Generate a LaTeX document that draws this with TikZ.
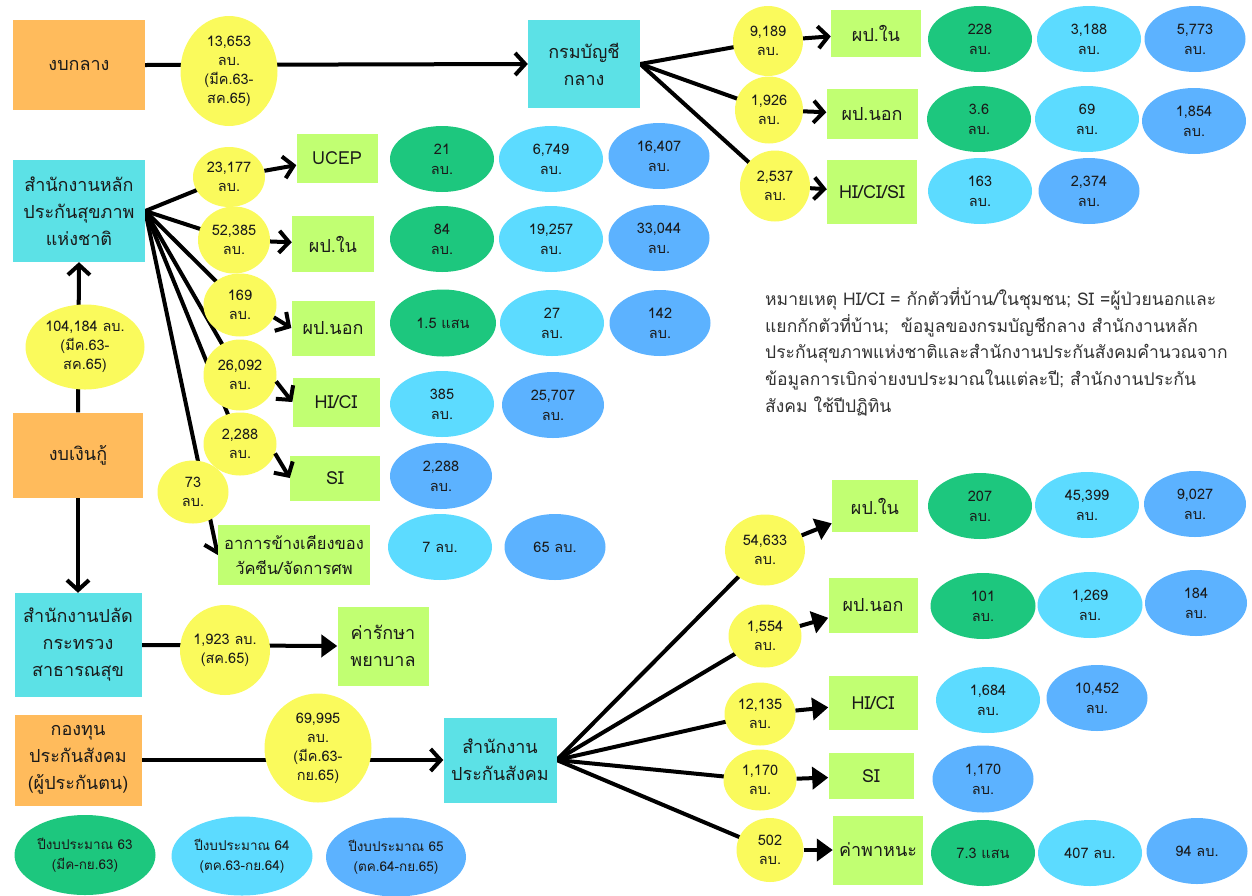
\documentclass[tikz,border=0pt]{standalone}
\usepackage{fontspec}
\setmainfont[Script=Thai]{Loma}
\usetikzlibrary{shapes.geometric,arrows.meta}
\pgfdeclarelayer{bg}
\pgfsetlayers{bg,main}
\definecolor{corange}{HTML}{FFBB5C}
\definecolor{ccyan}{HTML}{5CE1E6}
\definecolor{cyel}{HTML}{FAFA5C}
\definecolor{cbox}{HTML}{C1FF72}
\definecolor{cg63}{HTML}{1DC77E}
\definecolor{cg64}{HTML}{5CDBFF}
\definecolor{cg65}{HTML}{5CB2FF}
\definecolor{ctext}{HTML}{1A1A1A}
\definecolor{cnote}{HTML}{333333}
\begin{document}
\begin{tikzpicture}[x=1pt,y=-1pt,
  every node/.style={text=ctext},
  sz/.style 2 args={minimum width=#1pt, minimum height=#2pt},
  src/.style={rectangle, fill=corange, align=center, inner sep=0pt, font=\fontsize{18}{27}\selectfont},
  agency/.style={rectangle, fill=ccyan, align=center, inner sep=0pt, font=\fontsize{18}{27}\selectfont},
  item/.style={rectangle, fill=cbox, align=center, inner sep=0pt, font=\fontsize{18}{27}\selectfont},
  amount/.style={ellipse, fill=cyel, align=center, inner sep=0pt, font=\fontsize{14.5}{19}\selectfont},
  yr/.style={ellipse, align=center, inner sep=0pt, sz={104}{66}, font=\fontsize{14.5}{20}\selectfont},
  y63/.style={yr, fill=cg63},
  y64/.style={yr, fill=cg64},
  y65/.style={yr, fill=cg65},
  flow/.style={line width=4pt, black, line join=round},
  barb/.style={flow, -{Straight Barb[length=10pt,width=22pt,line width=4pt]}},
  tri/.style={flow, -{Triangle[length=16pt,width=22pt]}},
]
\useasboundingbox (0,0) rectangle (1252,895);

% sources and agencies
\node[src, sz={132}{90}] (gbk) at (79,65) {งบกลาง};
\node[agency, sz={132}{102}] (nhso) at (79,211) {สำนักงานหลัก\\ประกันสุขภาพ\\แห่งชาติ};
\node[src, sz={130}{85}] (loan) at (78,455) {งบเงินกู้};
\node[agency, sz={127}{104}] (ops) at (78,645) {สำนักงานปลัด\\กระทรวง\\สาธารณสุข};
\node[src, sz={127}{91}] (ssf) at (78,760) {กองทุน\\ประกันสังคม\\(ผู้ประกันตน)};
\node[agency, sz={112}{88}] (cgd) at (584,64) {กรมบัญชี\\กลาง};
\node[agency, sz={113}{85}] (sso) at (500,760) {สำนักงาน\\ประกันสังคม};
\node[item, sz={91}{79}] (cost) at (383,646) {ค่ารักษา\\พยาบาล};

% item boxes
\node[item, sz={90}{47}] (g1) at (876,33) {ผป.ใน};
\node[item, sz={91}{50}] (g2) at (872,114) {ผป.นอก};
\node[item, sz={90}{64}] (g3) at (872,192) {HI/CI/SI};
\node[item, sz={81}{49}] (n1) at (337,158) {UCEP};
\node[item, sz={82}{56}] (n2) at (333,244) {ผป.ใน};
\node[item, sz={83}{55}] (n3) at (333,328) {ผป.นอก};
\node[item, sz={87}{49}] (n4) at (336,402) {HI/CI};
\node[item, sz={90}{45}] (n5) at (335,478) {SI};
\node[item, sz={152}{60}, font=\fontsize{16.5}{25}\selectfont] (n6) at (294,555) {อาการข้างเคียงของ\\วัคซีน/จัดการศพ};
\node[item, sz={86}{52}] (s1) at (875,506) {ผป.ใน};
\node[item, sz={89}{55}] (s2) at (873,605) {ผป.นอก};
\node[item, sz={89}{54}] (s3) at (873,703) {HI/CI};
\node[item, sz={85}{46}] (s4) at (871,776) {SI};
\node[item, sz={90}{69}] (s5) at (878,850) {ค่าพาหนะ};

% amounts
\node[amount, sz={97}{110}] (a1) at (229,71) {13,653\\ลบ.\\(มีค.63-\\สค.65)};
\node[amount, sz={119}{85}] (a2) at (85,347) {104,184 ลบ.\\(มีค.63-\\สค.65)};
\node[amount, sz={90}{90}] (a3) at (225,650) {1,923 ลบ.\\(สค.65)};
\node[amount, sz={107}{109}] (a4) at (318,748) {69,995\\ลบ.\\(มีค.63-\\กย.65)};
\node[amount, sz={70}{70}] (c1) at (768,41) {9,189\\ลบ.};
\node[amount, sz={68}{67}] (c2) at (769,110) {1,926\\ลบ.};
\node[amount, sz={70}{71}] (c3) at (775,186) {2,537\\ลบ.};
\node[amount, sz={72}{60}] (d1) at (229,177) {23,177\\ลบ.};
\node[amount, sz={72}{67}] (d2) at (234,240) {52,385\\ลบ.};
\node[amount, sz={73}{63}] (d3) at (240,305) {169\\ลบ.};
\node[amount, sz={73}{71}] (d4) at (240,375) {26,092\\ลบ.};
\node[amount, sz={73}{63}] (d5) at (240,444) {2,288\\ลบ.};
\node[amount, sz={71}{63}] (d6) at (193,492) {73\\ลบ.};
\node[amount, sz={80}{71}] (f1) at (765,550) {54,633\\ลบ.};
\node[amount, sz={73}{63}] (f2) at (765,636) {1,554\\ลบ.};
\node[amount, sz={71}{63}] (f3) at (760,714) {12,135\\ลบ.};
\node[amount, sz={73}{61}] (f4) at (760,780) {1,170\\ลบ.};
\node[amount, sz={67}{64}] (f5) at (770,850) {502\\ลบ.};

% yearly values: CGD
\node[y63] (v11) at (980,39) {228\\ลบ.};
\node[y64] (v12) at (1089,39) {3,188\\ลบ.};
\node[y65, sz={101}{66}] (v13) at (1195,39) {5,773\\ลบ.};
\node[y63] (v21) at (979,119) {3.6\\ลบ.};
\node[y64] (v22) at (1087,119) {69\\ลบ.};
\node[y65] (v23) at (1194,121) {1,854\\ลบ.};
\node[y64] (v31) at (980,191) {163\\ลบ.};
\node[y65, sz={101}{66}] (v32) at (1089,191) {2,374\\ลบ.};
% yearly values: NHSO
\node[y63] (w11) at (442,159) {21\\ลบ.};
\node[y64] (w12) at (551,159) {6,749\\ลบ.};
\node[y65, sz={101}{66}] (w13) at (659,156) {16,407\\ลบ.};
\node[y63] (w21) at (442,239) {84\\ลบ.};
\node[y64] (w22) at (551,239) {19,257\\ลบ.};
\node[y65, sz={101}{66}] (w23) at (659,238) {33,044\\ลบ.};
\node[y63, sz={106}{67}] (w31) at (443,323) {1.5 แสน};
\node[y64] (w32) at (552,323) {27\\ลบ.};
\node[y65, sz={101}{66}] (w33) at (660,323) {142\\ลบ.};
\node[y64] (w41) at (442,404) {385\\ลบ.};
\node[y65, sz={102}{66}] (w42) at (553,405) {25,707\\ลบ.};
\node[y65, sz={102}{66}] (w51) at (441,476) {2,288\\ลบ.};
\node[y64] (w61) at (440,547) {7 ลบ.};
\node[y65, sz={101}{66}] (w62) at (555,547) {65 ลบ.};
% yearly values: SSO
\node[y63] (u11) at (980,506) {207\\ลบ.};
\node[y64] (u12) at (1087,505) {45,399\\ลบ.};
\node[y65, sz={102}{66}] (u13) at (1195,504) {9,027\\ลบ.};
\node[y63, sz={105}{66}] (u21) at (983,606) {101\\ลบ.};
\node[y64, sz={105}{66}] (u22) at (1090,605) {1,269\\ลบ.};
\node[y65, sz={102}{66}] (u23) at (1196,603) {184\\ลบ.};
\node[y64] (u31) at (988,700) {1,684\\ลบ.};
\node[y65, sz={101}{66}] (u32) at (1097,698) {10,452\\ลบ.};
\node[y65, sz={101}{67}] (u41) at (983,779) {1,170\\ลบ.};
\node[y63] (u51) at (983,853) {7.3 แสน};
\node[y64] (u52) at (1090,853) {407 ลบ.};
\node[y65, sz={101}{66}] (u53) at (1197,851) {94 ลบ.};

% legend
\node[y63, sz={141}{80}, font=\fontsize{13.5}{20}\selectfont] (l63) at (85,855) {ปีงบประมาณ 63\\(มีค-กย.63)};
\node[y64, sz={141}{79}, font=\fontsize{13.5}{20}\selectfont] (l64) at (242,856) {ปีงบประมาณ 64\\(ตค.63-กย.64)};
\node[y65, sz={140}{79}, font=\fontsize{13.5}{20}\selectfont] (l65) at (396,857) {ปีงบประมาณ 65\\(ตค.64-กย.65)};

% note
\node[anchor=north west, align=left, inner sep=0pt, text=cnote, font=\fontsize{17.5}{26.8}\selectfont] (note) at (765,287)
 {หมายเหตุ HI/CI = กักตัวที่บ้าน/ในชุมชน; SI =ผู้ป่วยนอกและ\\
  แยกกักตัวที่บ้าน;\ \ ข้อมูลของกรมบัญชีกลาง สำนักงานหลัก\\
  ประกันสุขภาพแห่งชาติและสำนักงานประกันสังคมคำนวณจาก\\
  ข้อมูลการเบิกจ่ายงบประมาณในแต่ละปี; สำนักงานประกัน\\
  สังคม ใช้ปีปฏิทิน};

% connectors behind the amount ellipses
\begin{pgfonlayer}{bg}
\draw[barb] (gbk.east) -- (cgd.west);
\draw[flow] (cgd.east) -- (c1.center);
\draw[flow] (cgd.east) -- (c2.center);
\draw[flow] (cgd.east) -- (c3.center);
\draw[flow] (nhso.east) -- (d1.center);
\draw[flow] (nhso.east) -- (d2.center);
\draw[flow] (nhso.east) -- (d3.center);
\draw[flow] (nhso.east) -- (d4.center);
\draw[flow] (nhso.east) -- (d5.center);
\draw[barb] (nhso.east) -- (n6.west);
\draw[barb] (loan.north) -- (nhso.south);
\draw[barb] (loan.south) -- (ops.north);
\draw[tri] (ops.east) -- (cost.west);
\draw[barb] (ssf.east) -- (sso.west);
\draw[flow] (sso.east) -- (f1.center);
\draw[flow] (sso.east) -- (f2.center);
\draw[flow] (sso.east) -- (f3.center);
\draw[flow] (sso.east) -- (f4.center);
\draw[flow] (sso.east) -- (f5.center);
\end{pgfonlayer}

% short arrows from amounts to items
\draw[barb] (c1) -- (g1);
\draw[barb] (c2) -- (g2);
\draw[barb] (c3) -- (g3);
\draw[barb] (d1) -- (n1);
\draw[barb] (d2) -- (n2);
\draw[barb] (d3.-20) -- (n3.west);
\draw[barb] (d4.-10) -- (n4.west);
\draw[barb] (d5.-15) -- (n5.west);
\draw[tri] (f1) -- (s1);
\draw[tri] (f2) -- (s2);
\draw[tri] (f3) -- (s3);
\draw[tri] (f4) -- (s4);
\draw[tri] (f5) -- (s5);
\end{tikzpicture}
\end{document}
